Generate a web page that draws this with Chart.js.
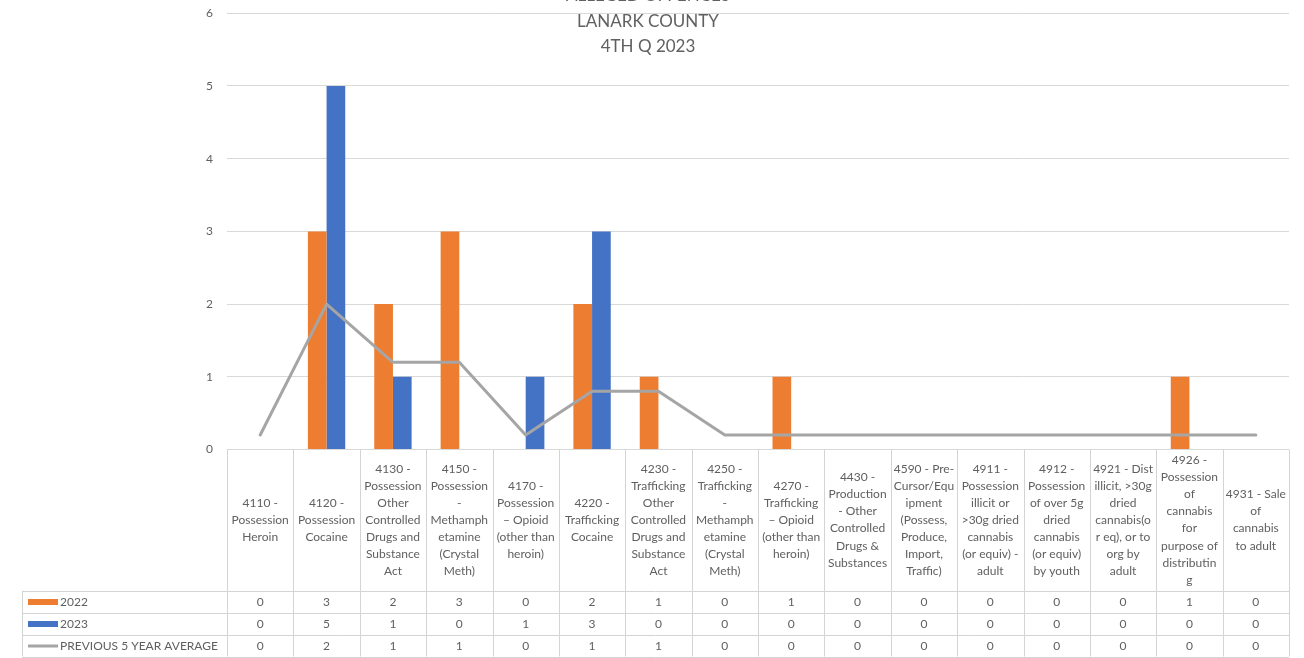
<!DOCTYPE html>
<html>
<head>
<meta charset="utf-8">
<title>Alleged Offences - Lanark County - 4th Q 2023</title>
<script src="https://cdn.jsdelivr.net/npm/chart.js@4.4.1/dist/chart.umd.min.js"></script>
<style>
  html, body { margin: 0; padding: 0; background: #ffffff; }
  #wrap { width: 1304px; height: 658px; position: relative; }
</style>
</head>
<body>
<div id="wrap"><canvas id="offenceChart" width="1304" height="658"></canvas></div>
<script>
// === DATA ===
const titleLines = ['ALLEGED OFFENCES', 'LANARK COUNTY', '4TH Q 2023'];

// category labels, wrapped the way the data table shows them
const categories = [
    ['4110 -', 'Possession', 'Heroin'],
    ['4120 -', 'Possession', 'Cocaine'],
    ['4130 -', 'Possession', 'Other', 'Controlled', 'Drugs and', 'Substance', 'Act'],
    ['4150 -', 'Possession', '-', 'Methamph', 'etamine', '(Crystal', 'Meth)'],
    ['4170 -', 'Possession', '\u2013 Opioid', '(other than', 'heroin)'],
    ['4220 -', 'Trafficking', 'Cocaine'],
    ['4230 -', 'Trafficking', 'Other', 'Controlled', 'Drugs and', 'Substance', 'Act'],
    ['4250 -', 'Trafficking', '-', 'Methamph', 'etamine', '(Crystal', 'Meth)'],
    ['4270 -', 'Trafficking', '\u2013 Opioid', '(other than', 'heroin)'],
    ['4430 -', 'Production', '- Other', 'Controlled', 'Drugs &', 'Substances'],
    ['4590 - Pre-', 'Cursor/Equ', 'ipment', '(Possess,', 'Produce,', 'Import,', 'Traffic)'],
    ['4911 -', 'Possession', 'illicit or', '>30g dried', 'cannabis', '(or equiv) -', 'adult'],
    ['4912 -', 'Possession', 'of over 5g', 'dried', 'cannabis', '(or equiv)', 'by youth'],
    ['4921 - Dist', 'illicit, >30g', 'dried', 'cannabis(o', 'r eq), or to', 'org by', 'adult'],
    ['4926 -', 'Possession', 'of', 'cannabis', 'for', 'purpose of', 'distributin', 'g'],
    ['4931 - Sale', 'of', 'cannabis', 'to adult']
];

const seriesNames = ['2022', '2023', 'PREVIOUS 5 YEAR AVERAGE'];

const values2022 = [0, 3, 2, 3, 0, 2, 1, 0, 1, 0, 0, 0, 0, 0, 1, 0];
const values2023 = [0, 5, 1, 0, 1, 3, 0, 0, 0, 0, 0, 0, 0, 0, 0, 0];
const valuesAvg  = [0.2, 2, 1.2, 1.2, 0.2, 0.8, 0.8, 0.2, 0.2, 0.2, 0.2, 0.2, 0.2, 0.2, 0.2, 0.2];

const yTicks = [0, 1, 2, 3, 4, 5, 6];

// === STYLE ===
const FONT = 'Lato, "Liberation Sans", sans-serif';
const TEXT_COLOR = '#606060';
const GRID_COLOR = '#d9d9d9';
const TABLE_LINE = '#d4d4d4';

// === TITLE PLUGIN (Excel overlay title, sits on top of the plot) ===
const overlayTitle = {
    id: 'overlayTitle',
    afterDraw(chart) {
        const ctx = chart.ctx;
        ctx.save();
        ctx.fillStyle = TEXT_COLOR;
        ctx.font = '17px ' + FONT;
        ctx.textAlign = 'center';
        ctx.textBaseline = 'middle';
        titleLines.forEach((line, i) => {
            ctx.fillText(line, 648, -4 + i * 25.3);
        });
        ctx.restore();
    }
};

// === DATA TABLE PLUGIN (category header + value rows under the axis) ===
const dataTable = {
    id: 'dataTable',
    afterDraw(chart) {
        const ctx = chart.ctx;
        const x = chart.scales.x;
        const n = chart.data.labels.length;
        const colW = (x.right - x.left) / n;
        const top = chart.chartArea.bottom;
        const headerBottom = top + 141;
        const rowH = 22;
        const bottom = headerBottom + rowH * 3;
        const tableLeft = 22;

        ctx.save();
        ctx.strokeStyle = TABLE_LINE;
        ctx.lineWidth = 1;

        // vertical lines at the column edges
        for (let i = 0; i <= n; i++) {
            const px = Math.round(x.left + i * colW) + 0.5;
            ctx.beginPath();
            ctx.moveTo(px, top);
            ctx.lineTo(px, bottom);
            ctx.stroke();
        }
        // left edge of the legend column
        ctx.beginPath();
        ctx.moveTo(tableLeft + 0.5, headerBottom);
        ctx.lineTo(tableLeft + 0.5, bottom);
        ctx.stroke();

        // horizontal row lines
        for (let r = 0; r <= 3; r++) {
            const py = Math.round(headerBottom + r * rowH) + 0.5;
            ctx.beginPath();
            ctx.moveTo(tableLeft, py);
            ctx.lineTo(x.right, py);
            ctx.stroke();
        }

        // header text, centred in the cell
        ctx.fillStyle = TEXT_COLOR;
        ctx.font = '12px ' + FONT;
        ctx.textAlign = 'center';
        ctx.textBaseline = 'middle';
        const lineH = 17.1;
        const headMid = (top + headerBottom) / 2;
        chart.data.labels.forEach((lines, i) => {
            const cx = x.getPixelForValue(i);
            const y0 = headMid - (lines.length - 1) * lineH / 2;
            lines.forEach((txt, k) => ctx.fillText(txt, cx, y0 + k * lineH));
        });

        // value rows, with a legend key in the first column
        chart.data.datasets.forEach((ds, r) => {
            const cy = headerBottom + r * rowH + rowH / 2 + 0.5;
            ds.data.forEach((v, i) => {
                ctx.textAlign = 'center';
                ctx.fillStyle = TEXT_COLOR;
                ctx.fillText(v.toFixed(0), x.getPixelForValue(i), cy);
            });
            if (ds.type === 'line') {
                ctx.strokeStyle = ds.borderColor;
                ctx.lineWidth = 3;
                ctx.beginPath();
                ctx.moveTo(28, cy);
                ctx.lineTo(58, cy);
                ctx.stroke();
            } else {
                ctx.fillStyle = ds.backgroundColor;
                ctx.fillRect(28, cy - 3, 30, 6);
            }
            ctx.fillStyle = TEXT_COLOR;
            ctx.textAlign = 'left';
            ctx.fillText(ds.label, 60, cy);
        });
        ctx.restore();
    }
};

// === CHART ===
const ctx = document.getElementById('offenceChart').getContext('2d');
new Chart(ctx, {
    type: 'bar',
    data: {
        labels: categories,
        datasets: [
            {
                label: seriesNames[0],
                data: values2022,
                backgroundColor: '#ed7d31',
                order: 1
            },
            {
                label: seriesNames[1],
                data: values2023,
                backgroundColor: '#4472c4',
                order: 1
            },
            {
                type: 'line',
                label: seriesNames[2],
                data: valuesAvg,
                borderColor: '#a5a5a5',
                backgroundColor: '#a5a5a5',
                borderWidth: 3,
                pointRadius: 0,
                tension: 0,
                borderCapStyle: 'round',
                borderJoinStyle: 'round',
                fill: false,
                order: 0
            }
        ]
    },
    options: {
        responsive: false,
        animation: false,
        layout: { padding: { left: 0, right: 15, top: 13.3, bottom: 0 } },
        datasets: {
            bar: { categoryPercentage: 0.563, barPercentage: 1 }
        },
        plugins: {
            legend: { display: false },
            title: { display: false },
            tooltip: { enabled: false }
        },
        scales: {
            x: {
                grid: { display: false },
                border: { display: false },
                ticks: { display: false },
                afterFit(scale) { scale.height = 208.5; }
            },
            y: {
                min: yTicks[0],
                max: yTicks[yTicks.length - 1],
                afterBuildTicks(scale) { scale.ticks = yTicks.map(v => ({ value: v })); },
                // transparent tick marks keep the labels 14px off the plot
                // without adding extra top padding
                grid: { color: GRID_COLOR, drawTicks: true, tickLength: 14, tickColor: 'rgba(0,0,0,0)', lineWidth: 1 },
                border: { display: false },
                ticks: {
                    color: TEXT_COLOR,
                    font: { family: FONT, size: 12 },
                    padding: 0
                },
                afterFit(scale) { scale.width = 227; }
            }
        }
    },
    plugins: [overlayTitle, dataTable]
});
</script>
</body>
</html>
